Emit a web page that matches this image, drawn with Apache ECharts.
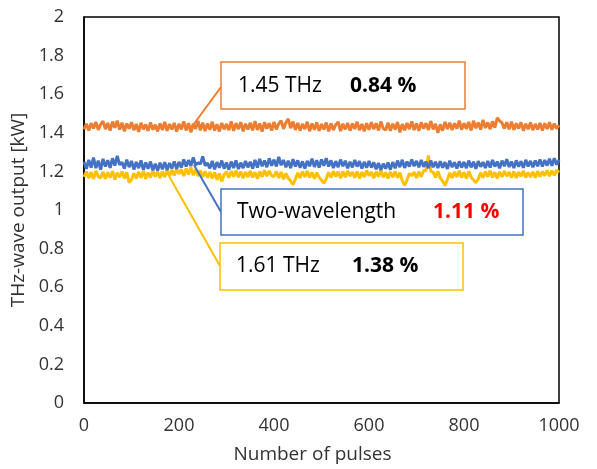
<!DOCTYPE html>
<html>
<head>
<meta charset="utf-8">
<script src="https://cdn.jsdelivr.net/npm/echarts@6/dist/echarts.min.js"></script>
<style>html,body{margin:0;padding:0;background:#fff}#c{width:597px;height:469px}</style>
</head>
<body>
<div id="c"></div>
<script>
// pulse index (step 5)
const pulses = [];
for (let i = 0; i <= 200; i++) pulses.push(i * 5);

const xTickLabels = ['0', '200', '400', '600', '800', '1000'];
const yTickLabels = ['0', '0.2', '0.4', '0.6', '0.8', '1', '1.2', '1.4', '1.6', '1.8', '2'];

const thz145 = [
1.418,1.447,1.412,1.450,1.423,1.456,1.415,1.444,1.460,1.419,
1.451,1.411,1.458,1.426,1.463,1.417,1.452,1.408,1.448,1.421,
1.455,1.414,1.446,1.405,1.452,1.418,1.443,1.410,1.454,1.416,
1.442,1.407,1.449,1.414,1.456,1.410,1.445,1.417,1.451,1.406,
1.447,1.418,1.459,1.412,1.450,1.403,1.447,1.420,1.462,1.413,
1.453,1.409,1.448,1.416,1.457,1.412,1.444,1.407,1.451,1.418,
1.446,1.414,1.459,1.410,1.450,1.419,1.455,1.408,1.447,1.417,
1.452,1.413,1.461,1.415,1.448,1.406,1.454,1.421,1.450,1.412,
1.456,1.418,1.447,1.463,1.420,1.452,1.472,1.424,1.458,1.415,
1.451,1.411,1.446,1.419,1.457,1.408,1.448,1.416,1.454,1.410,
1.445,1.417,1.453,1.407,1.449,1.414,1.442,1.456,1.409,1.447,
1.418,1.451,1.411,1.448,1.420,1.457,1.413,1.446,1.408,1.450,
1.416,1.455,1.419,1.449,1.412,1.458,1.422,1.415,1.452,1.410,
1.447,1.417,1.456,1.402,1.445,1.413,1.451,1.419,1.459,1.414,
1.448,1.410,1.454,1.421,1.450,1.415,1.461,1.418,1.446,1.400,
1.444,1.411,1.457,1.419,1.452,1.414,1.449,1.422,1.463,1.416,
1.450,1.420,1.456,1.412,1.462,1.424,1.453,1.417,1.467,1.425,
1.454,1.419,1.459,1.427,1.478,1.462,1.451,1.422,1.455,1.418,
1.458,1.415,1.449,1.422,1.454,1.411,1.447,1.419,1.453,1.414,
1.446,1.417,1.451,1.412,1.449,1.420,1.455,1.416,1.448,1.421,
1.440];

const twoWave = [
1.250,1.213,1.260,1.220,1.272,1.217,1.256,1.209,1.265,1.225,
1.258,1.218,1.268,1.230,1.280,1.234,1.247,1.215,1.261,1.222,
1.254,1.210,1.249,1.217,1.257,1.208,1.246,1.214,1.251,1.206,
1.240,1.204,1.245,1.211,1.248,1.207,1.243,1.215,1.252,1.213,
1.249,1.220,1.262,1.225,1.258,1.229,1.272,1.233,1.245,1.238,
1.278,1.230,1.243,1.216,1.254,1.211,1.248,1.219,1.256,1.214,
1.246,1.209,1.251,1.218,1.257,1.212,1.245,1.217,1.254,1.221,
1.250,1.215,1.259,1.220,1.265,1.227,1.256,1.222,1.268,1.229,
1.261,1.226,1.275,1.232,1.259,1.221,1.255,1.217,1.263,1.225,
1.257,1.219,1.252,1.215,1.254,1.227,1.266,1.223,1.258,1.220,
1.262,1.229,1.269,1.225,1.257,1.218,1.253,1.222,1.261,1.227,
1.255,1.216,1.250,1.221,1.259,1.225,1.253,1.215,1.249,1.219,
1.254,1.220,1.247,1.211,1.244,1.207,1.240,1.214,1.246,1.209,
1.248,1.216,1.256,1.222,1.260,1.218,1.251,1.225,1.262,1.227,
1.254,1.221,1.259,1.224,1.251,1.217,1.256,1.222,1.250,1.218,
1.253,1.219,1.248,1.213,1.255,1.222,1.247,1.215,1.252,1.220,
1.249,1.217,1.256,1.221,1.250,1.214,1.253,1.224,1.248,1.218,
1.254,1.220,1.259,1.225,1.251,1.216,1.256,1.227,1.263,1.223,
1.251,1.218,1.257,1.224,1.253,1.219,1.260,1.226,1.254,1.221,
1.256,1.227,1.262,1.225,1.259,1.230,1.265,1.229,1.268,1.235,
1.260];

const thz161 = [
1.172,1.199,1.165,1.196,1.160,1.203,1.174,1.166,1.198,1.162,
1.195,1.168,1.201,1.158,1.193,1.170,1.199,1.164,1.196,1.142,
1.158,1.190,1.163,1.198,1.167,1.201,1.161,1.194,1.168,1.203,
1.173,1.198,1.166,1.200,1.171,1.205,1.176,1.208,1.179,1.212,
1.187,1.210,1.176,1.215,1.184,1.222,1.180,1.211,1.176,1.204,
1.171,1.200,1.168,1.197,1.163,1.195,1.156,1.190,1.148,1.184,
1.198,1.167,1.201,1.173,1.205,1.170,1.199,1.165,1.197,1.171,
1.202,1.169,1.195,1.162,1.199,1.172,1.206,1.175,1.203,1.178,
1.173,1.200,1.166,1.197,1.159,1.190,1.164,1.150,1.131,1.160,
1.193,1.166,1.199,1.171,1.202,1.168,1.196,1.162,1.194,1.169,
1.154,1.139,1.162,1.195,1.168,1.201,1.173,1.198,1.165,1.200,
1.170,1.203,1.176,1.197,1.168,1.199,1.164,1.196,1.171,1.204,
1.178,1.197,1.165,1.200,1.172,1.205,1.169,1.195,1.163,1.198,
1.170,1.201,1.167,1.193,1.152,1.128,1.155,1.189,1.178,1.197,
1.166,1.199,1.172,1.205,1.205,1.282,1.200,1.196,1.169,1.201,
1.165,1.150,1.127,1.158,1.193,1.166,1.198,1.171,1.203,1.168,
1.195,1.163,1.200,1.170,1.156,1.141,1.161,1.193,1.167,1.199,
1.172,1.204,1.169,1.196,1.164,1.198,1.171,1.202,1.175,1.197,
1.168,1.200,1.166,1.197,1.174,1.203,1.169,1.195,1.170,1.198,
1.167,1.201,1.173,1.199,1.178,1.205,1.175,1.204,1.180,1.207,
1.195];

const seriesNames = ['1.45 THz', '1.61 THz', 'Two-wavelength'];
const seriesColors = ['#ED7D31', '#FFC000', '#4472C4'];

const pair = (arr) => pulses.map((x, i) => [x, arr[i]]);

const chart = echarts.init(document.getElementById('c'), null, { renderer: 'canvas' });
const FONT = '"Open Sans", sans-serif';
const TXT = '#333333';

function box(x, y, w, h, color) {
  return { type: 'rect', shape: { x: x, y: y, width: w, height: h },
    style: { fill: '#fff', stroke: color, lineWidth: 1.5 }, z: 100 };
}
function line(x1, y1, x2, y2, color) {
  return { type: 'line', shape: { x1: x1, y1: y1, x2: x2, y2: y2 },
    style: { stroke: color, lineWidth: 2 }, z: 99 };
}
function txt(x, y, s, color, bold) {
  return { type: 'text', x: x, y: y, z: 101,
    style: { text: s, fill: color, font: (bold ? 'bold ' : '') + '21px ' + FONT, textVerticalAlign: 'middle', verticalAlign: 'middle' } };
}

chart.setOption({
  animation: false,
  grid: { left: 84, right: 38, top: 17, bottom: 66, show: true, borderColor: '#000', borderWidth: 1.5 },
  xAxis: {
    type: 'value', min: 0, max: 1000, interval: 200,
    name: 'Number of pulses', nameLocation: 'middle', nameGap: 42,
    nameTextStyle: { fontFamily: FONT, fontSize: 19, color: TXT, padding: [0, 18, 0, 0] },
    axisLine: { show: true, lineStyle: { color: '#000', width: 1.5 } },
    axisTick: { show: false }, splitLine: { show: false },
    axisLabel: { fontFamily: FONT, fontSize: 18, color: TXT, margin: 14,
      formatter: (v) => xTickLabels[Math.round(v / 200)] }
  },
  yAxis: {
    type: 'value', min: 0, max: 2, interval: 0.2,
    name: 'THz-wave output [kW]', nameLocation: 'middle', nameGap: 47,
    nameTextStyle: { fontFamily: FONT, fontSize: 19, color: TXT },
    axisLine: { show: true, lineStyle: { color: '#000', width: 1.5 } },
    axisTick: { show: false }, splitLine: { show: false },
    axisLabel: { fontFamily: FONT, fontSize: 18, color: TXT, margin: 20,
      formatter: (v) => yTickLabels[Math.round(v / 0.2)] }
  },
  series: [
    { name: seriesNames[0], type: 'line', data: pair(thz145), showSymbol: false, lineStyle: { color: seriesColors[0], width: 3 }, itemStyle: { color: seriesColors[0] } },
    { name: seriesNames[1], type: 'line', data: pair(thz161), showSymbol: false, lineStyle: { color: seriesColors[1], width: 3 }, itemStyle: { color: seriesColors[1] } },
    { name: seriesNames[2], type: 'line', data: pair(twoWave), showSymbol: false, lineStyle: { color: seriesColors[2], width: 3 }, itemStyle: { color: seriesColors[2] } }
  ],
  graphic: [
    line(191, 128, 221, 87, '#ED7D31'),
    line(194, 165, 221, 212, '#4472C4'),
    line(169, 176, 220, 266, '#FFC000'),
    box(221, 62, 244, 47, '#ED7D31'),
    box(221, 189, 302, 46, '#4472C4'),
    box(220, 243, 243, 47, '#FFC000'),
    txt(238, 86, '1.45 THz', '#000', false),
    txt(350, 86, '0.84 %', '#000', true),
    txt(237, 212, 'Two-wavelength', '#000', false),
    txt(433, 212, '1.11 %', '#FF0000', true),
    txt(236, 266, '1.61 THz', '#000', false),
    txt(352, 266, '1.38 %', '#000', true)
  ]
});
</script>
</body>
</html>
